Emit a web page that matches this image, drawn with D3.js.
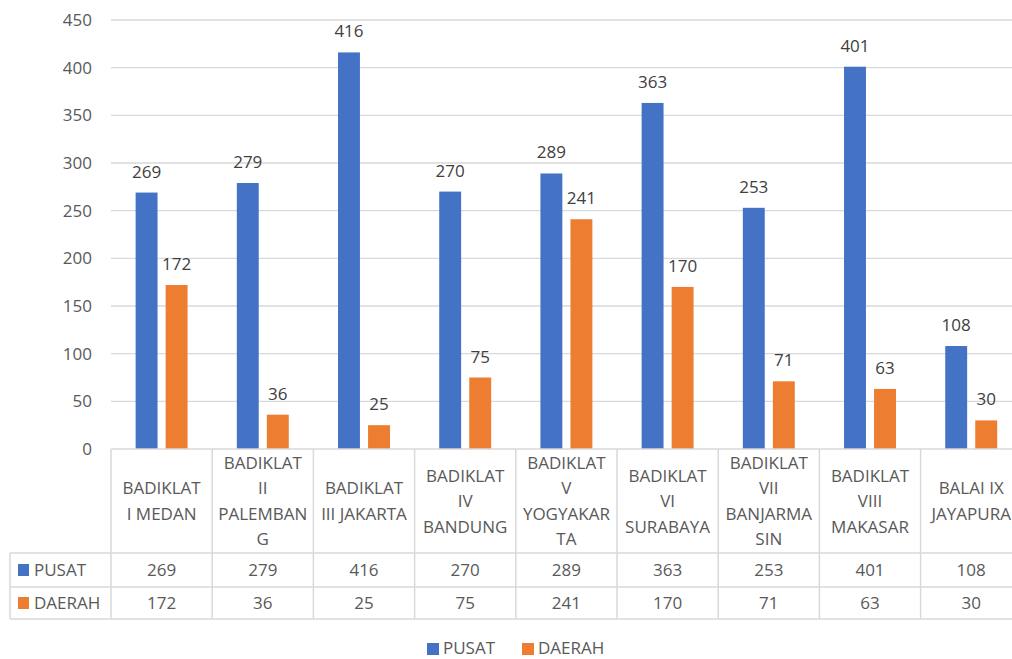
<!DOCTYPE html>
<meta charset="utf-8">
<head>
  <title>Pusat vs Daerah</title>
  <style>
    body { margin: 0; background: #fff; }
    text { font-family: "Open Sans", sans-serif; }
  </style>
</head>
<body>
  <script src="https://d3js.org/d3.v7.min.js"></script>
  <div id="chart"></div>
  <script>
    // data
    var categories = ["BADIKLAT I MEDAN", "BADIKLAT II PALEMBANG", "BADIKLAT III JAKARTA",
      "BADIKLAT IV BANDUNG", "BADIKLAT V YOGYAKARTA", "BADIKLAT VI SURABAYA",
      "BADIKLAT VII BANJARMASIN", "BADIKLAT VIII MAKASAR", "BALAI IX JAYAPURA"];
    // the way each label wraps in its table cell
    var categoryLines = [
      ["BADIKLAT", "I MEDAN"],
      ["BADIKLAT", "II", "PALEMBAN", "G"],
      ["BADIKLAT", "III JAKARTA"],
      ["BADIKLAT", "IV", "BANDUNG"],
      ["BADIKLAT", "V", "YOGYAKAR", "TA"],
      ["BADIKLAT", "VI", "SURABAYA"],
      ["BADIKLAT", "VII", "BANJARMA", "SIN"],
      ["BADIKLAT", "VIII", "MAKASAR"],
      ["BALAI IX", "JAYAPURA"]
    ];
    var seriesNames = ["PUSAT", "DAERAH"];
    var pusat = [269, 279, 416, 270, 289, 363, 253, 401, 108];
    var daerah = [172, 36, 25, 75, 241, 170, 71, 63, 30];
    var yTicks = [0, 50, 100, 150, 200, 250, 300, 350, 400, 450];

    var colors = {PUSAT: "#4472C4", DAERAH: "#ED7D31"};
    var seriesValues = {PUSAT: pusat, DAERAH: daerah};

    var W = 1012, H = 659;
    var plotLeft = 111, colW = 101.2;
    var plotTop = 20, base = 449;
    var headerBottom = 553, row1Bottom = 587, row2Bottom = 619, tableLeft = 10;

    var svg = d3.select("#chart").append("svg")
      .attr("width", W).attr("height", H);

    var x0 = d3.scaleBand()
      .domain(categories)
      .range([plotLeft, plotLeft + colW * categories.length])
      .padding(0);
    var x1 = d3.scaleBand()
      .domain(seriesNames)
      .range([0, x0.bandwidth()])
      .paddingInner(0.27)
      .paddingOuter(0.82);
    var y = d3.scaleLinear().domain([0, 450]).range([base, plotTop]);

    // gridlines
    svg.append("g").selectAll("line")
      .data(yTicks.filter(function(t) { return t > 0; }))
      .enter().append("line")
        .attr("x1", plotLeft).attr("x2", W)
        .attr("y1", function(d) { return y(d); })
        .attr("y2", function(d) { return y(d); })
        .attr("stroke", "#d9d9d9").attr("stroke-width", 1.3);

    // y axis labels
    var yAxis = d3.axisLeft(y).tickValues(yTicks).tickSize(0).tickPadding(19);
    var ya = svg.append("g").attr("transform", "translate(" + plotLeft + ",0)").call(yAxis);
    ya.select(".domain").remove();
    ya.selectAll("text")
      .style("font-family", "'Open Sans', sans-serif")
      .style("font-size", "17px")
      .attr("fill", "#595959");

    // bars
    var groups = svg.append("g").selectAll("g")
      .data(categories)
      .enter().append("g")
        .attr("transform", function(d) { return "translate(" + x0(d) + ",0)"; });

    function rowOf(d, i) {
      return seriesNames.map(function(s) { return {s: s, v: seriesValues[s][i]}; });
    }

    groups.selectAll("rect")
      .data(rowOf)
      .enter().append("rect")
        .attr("x", function(d) { return x1(d.s); })
        .attr("width", x1.bandwidth())
        .attr("y", function(d) { return y(d.v); })
        .attr("height", function(d) { return base - y(d.v); })
        .attr("fill", function(d) { return colors[d.s]; });

    groups.selectAll("text.lbl")
      .data(rowOf)
      .enter().append("text")
        .attr("class", "lbl")
        .attr("x", function(d) { return x1(d.s) + x1.bandwidth() / 2; })
        .attr("y", function(d) { return y(d.v) - 15; })
        .attr("text-anchor", "middle")
        .style("font-size", "17px")
        .attr("fill", "#404040")
        .text(function(d) { return d.v; });

    // data table
    var table = svg.append("g");
    var gridColor = "#d9d9d9";
    var plotRight = plotLeft + colW * categories.length;

    // horizontal rules
    [[plotLeft, base], [tableLeft, headerBottom], [tableLeft, row1Bottom], [tableLeft, row2Bottom]]
      .forEach(function(r) {
        table.append("line")
          .attr("x1", r[0]).attr("x2", plotRight)
          .attr("y1", r[1]).attr("y2", r[1])
          .attr("stroke", gridColor).attr("stroke-width", 1.5);
      });
    // vertical rules
    table.append("line")
      .attr("x1", tableLeft).attr("x2", tableLeft)
      .attr("y1", headerBottom).attr("y2", row2Bottom)
      .attr("stroke", gridColor).attr("stroke-width", 1.5);
    categories.concat(["end"]).forEach(function(c, i) {
      var xx = i < categories.length ? x0(c) : plotRight;
      table.append("line")
        .attr("x1", xx).attr("x2", xx)
        .attr("y1", base).attr("y2", row2Bottom)
        .attr("stroke", gridColor).attr("stroke-width", 1.5);
    });

    // category header text
    var lineH = 25.5;
    categories.forEach(function(c, i) {
      var lines = categoryLines[i];
      var cx = x0(c) + x0.bandwidth() / 2;
      var cy = (base + headerBottom) / 2;
      var t = table.append("text")
        .attr("text-anchor", "middle")
        .style("font-size", "17px")
        .attr("fill", "#595959");
      lines.forEach(function(l, j) {
        t.append("tspan")
          .attr("x", cx)
          .attr("y", cy + (j - (lines.length - 1) / 2) * lineH)
          .attr("dy", "0.36em")
          .text(l);
      });
    });

    // value rows
    var rows = [[headerBottom, row1Bottom], [row1Bottom, row2Bottom]];
    seriesNames.forEach(function(s, r) {
      var cy = (rows[r][0] + rows[r][1]) / 2;
      table.append("rect")
        .attr("x", 18).attr("y", cy - 6)
        .attr("width", 11).attr("height", 12)
        .attr("fill", colors[s]);
      table.append("text")
        .attr("x", 34).attr("y", cy).attr("dy", "0.36em")
        .style("font-size", "17px")
        .attr("fill", "#595959")
        .text(s);
      categories.forEach(function(c, i) {
        table.append("text")
          .attr("x", x0(c) + x0.bandwidth() / 2)
          .attr("y", cy).attr("dy", "0.36em")
          .attr("text-anchor", "middle")
          .style("font-size", "17px")
          .attr("fill", "#595959")
          .text(seriesValues[s][i]);
      });
    });

    // legend
    var legend = svg.append("g");
    var legendX = [427, 522];
    seriesNames.forEach(function(s, i) {
      legend.append("rect")
        .attr("x", legendX[i]).attr("y", 643)
        .attr("width", 12).attr("height", 12)
        .attr("fill", colors[s]);
      legend.append("text")
        .attr("x", legendX[i] + 16).attr("y", 648).attr("dy", "0.36em")
        .style("font-size", "17px")
        .attr("fill", "#595959")
        .text(s);
    });
  </script>
</body>
